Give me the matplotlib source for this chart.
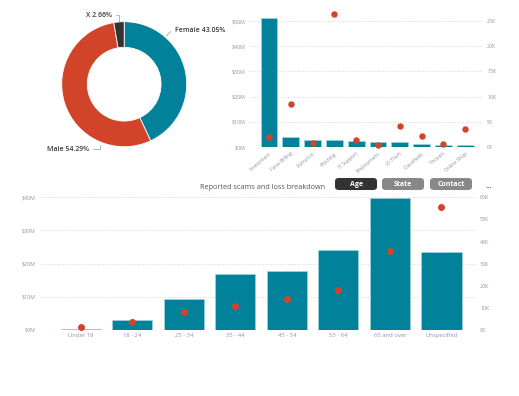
import numpy as np
import matplotlib
matplotlib.use('Agg')
import matplotlib.pyplot as plt
from matplotlib.patches import FancyBboxPatch

plt.rcParams['font.family'] = ['Open Sans', 'DejaVu Sans']

TEAL = '#01819a'
RED = '#d2442a'
DARK = '#333333'
TICK = '#8a96a3'

# donut
gender = ['Female', 'Male', 'X']
gender_pct = [43.05, 54.29, 2.66]

# top right: loss by scam type
scam_types = ['Investment', 'False Billing', 'Romance', 'Phishing', 'IT Support',
              'Employment', 'ID Theft', 'Classifieds', 'Threats', 'Online Shop']
scam_loss = [51.2, 3.85, 2.9, 2.9, 2.26, 2.0, 1.85, 1.07, 0.93, 0.8]   # $M
scam_reports = [1.9, 8.5, 0.7, 26.4, 1.45, 0.4, 4.1, 2.25, 0.6, 3.6]   # K

# bottom: by age
ages = ['Under 18', '18 - 24', '25 - 34', '35 - 44', '45 - 54', '55 - 64',
        '65 and over', 'Unspecified']
age_loss = [0.3, 3.0, 9.25, 16.8, 17.9, 24.0, 39.9, 23.5]   # $M
age_reports = [1.2, 3.8, 8.0, 11.0, 13.9, 17.9, 35.6, 55.6]  # K

W, H = 519, 396
fig = plt.figure(figsize=(W / 100, H / 100), dpi=100)


def px_axes(x0, y0, x1, y1):
    # pixel box (from top-left) -> figure axes
    return fig.add_axes([x0 / W, 1 - y1 / H, (x1 - x0) / W, (y1 - y0) / H])


def style(ax, axr, money_ticks, count_ticks):
    for a in (ax, axr):
        for s in a.spines.values():
            s.set_visible(False)
        a.tick_params(length=0, labelsize=3.8, labelcolor=TICK, pad=3)
    ax.set_yticks(money_ticks)
    ax.set_yticklabels(['$%dM' % v for v in money_ticks])
    axr.set_yticks(count_ticks)
    axr.set_yticklabels(['%dK' % v for v in count_ticks])
    ax.grid(axis='y', color='#c8c8c8', linestyle=(0, (1, 2)), linewidth=0.6)
    ax.set_axisbelow(True)


# ---- donut ----
axd = px_axes(61.7, 21.7, 186.7, 146.7)
axd.pie(gender_pct, colors=[TEAL, RED, DARK], startangle=90, counterclock=False,
        radius=1, wedgeprops=dict(width=0.41, edgecolor='white', linewidth=0.6))
axd.set_xlim(-1, 1)
axd.set_ylim(-1, 1)
axd.set_aspect('equal')
axd.axis('off')
lbl = dict(fontsize=5.0, color='#3c3c3c', fontweight='semibold', va='center')
ln = dict(arrowstyle='-', color='#999999', lw=0.5, shrinkA=1, shrinkB=0)
axd.annotate('%s %.2f%%' % (gender[2], gender_pct[2]), xy=(-0.09, 1.0), xytext=(-0.2, 1.107),
             ha='right', arrowprops=dict(connectionstyle='angle,angleA=0,angleB=90', **ln),
             annotation_clip=False, **lbl)
axd.annotate('%s %.2f%%' % (gender[0], gender_pct[0]), xy=(0.67, 0.77), xytext=(0.81, 0.856),
             ha='left', arrowprops=dict(connectionstyle='angle,angleA=180,angleB=45', **ln),
             annotation_clip=False, **lbl)
axd.annotate('%s %.2f%%' % (gender[1], gender_pct[1]), xy=(-0.39, -0.97), xytext=(-0.563, -1.037),
             ha='right', arrowprops=dict(connectionstyle='angle,angleA=0,angleB=90', **ln),
             annotation_clip=False, **lbl)

# ---- top right combo ----
ax1 = px_axes(250, 13, 483, 147)
ax1r = ax1.twinx()
x1 = np.arange(len(scam_types))
ax1.bar(x1, scam_loss, width=0.77, color=TEAL, edgecolor='#a9d8e0', linewidth=0.4)
ax1r.scatter(x1, scam_reports, s=13, color=RED, zorder=3, clip_on=False)
ax1.set_xlim(-0.87, 9.82)
ax1.set_ylim(0, 50 * 134 / 126)
ax1r.set_ylim(0, 25 * 134 / 126)
style(ax1, ax1r, [0, 10, 20, 30, 40, 50], [0, 5, 10, 15, 20, 25])
ax1.set_xticks(x1)
ax1.set_xticklabels(scam_types, rotation=40, ha='right', rotation_mode='anchor', fontsize=3.6)

# ---- bottom combo ----
ax2 = px_axes(40, 197.3, 476, 330)
ax2r = ax2.twinx()
x2 = np.arange(len(ages))
ax2.bar(x2, age_loss, width=0.78, color=TEAL, edgecolor='#a9d8e0', linewidth=0.4)
ax2r.scatter(x2, age_reports, s=16, color=RED, zorder=3, clip_on=False)
ax2.set_xlim(-0.79, 7.67)
ax2.set_ylim(0, 40)
ax2r.set_ylim(0, 60)
style(ax2, ax2r, [0, 10, 20, 30, 40], [0, 10, 20, 30, 40, 50, 60])
ax2.set_xticks(x2)
ax2.set_xticklabels(ages, fontsize=4.2)
ax2.tick_params(axis='x', pad=2)

# title and slicer buttons
fig.text(200 / W, 1 - 187.5 / H, 'Reported scams and loss breakdown', fontsize=5.2,
         color='#555555', va='center', ha='left')
buttons = [('Age', 335, 377, '#333333'), ('State', 382, 424, '#888888'),
           ('Contact', 430, 472, '#888888')]
for name, bx0, bx1, col in buttons:
    fig.patches.append(FancyBboxPatch((bx0 / W, 1 - 190 / H), (bx1 - bx0) / W, 12 / H,
                                      boxstyle='round,pad=0,rounding_size=0.008',
                                      transform=fig.transFigure, facecolor=col,
                                      edgecolor='none'))
    fig.text((bx0 + bx1) / 2 / W, 1 - 184 / H, name, fontsize=5, color='white',
             fontweight='bold', ha='center', va='center')
fig.text(489 / W, 1 - 186 / H, '...', fontsize=6, color='#222244', ha='center', va='center')

fig.savefig('out.png', dpi=100, facecolor='white')
